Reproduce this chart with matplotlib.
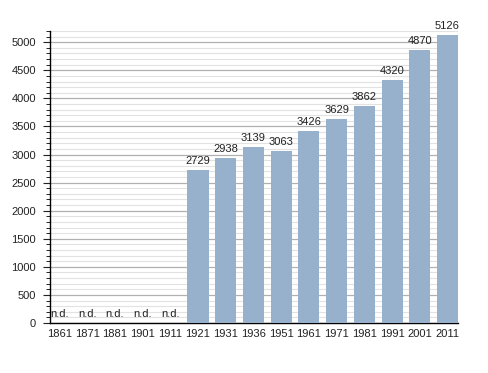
import matplotlib
matplotlib.use("Agg")
import matplotlib.pyplot as plt
from matplotlib.ticker import MultipleLocator

years = ["1861", "1871", "1881", "1901", "1911", "1921", "1931", "1936",
         "1951", "1961", "1971", "1981", "1991", "2001", "2011"]
population = [None, None, None, None, None, 2729, 2938, 3139,
              3063, 3426, 3629, 3862, 4320, 4870, 5126]

plt.rcParams['font.family'] = ['Liberation Sans', 'DejaVu Sans']

fig = plt.figure(figsize=(4.88, 3.73), dpi=100)
ax = fig.add_axes([50/488, 1 - 323/373, (458-50)/488, (323-31)/373])

xs = list(range(len(years)))
vals = [v if v is not None else 0 for v in population]
ax.bar(xs, vals, width=0.76, color='#97b0cc', zorder=3)

fs = 8
for x, v in zip(xs, population):
    if v is None:
        ax.text(x, 70, "n.d.", ha='center', va='bottom', fontsize=fs, color='#222222', zorder=4)
    else:
        ax.text(x, v + 70, str(v), ha='center', va='bottom', fontsize=fs, color='#222222', zorder=4)

ax.set_xlim(-0.34, 14.38)
ax.set_ylim(0, 5200)
ax.yaxis.set_major_locator(MultipleLocator(500))
ax.yaxis.set_minor_locator(MultipleLocator(100))
ax.grid(which='major', axis='y', color='#b0b0b0', linewidth=0.9, zorder=1)
ax.grid(which='minor', axis='y', color='#e2e2e2', linewidth=0.8, zorder=1)
ax.set_axisbelow(True)

ax.set_xticks(xs)
ax.set_xticklabels(years)
ax.tick_params(axis='x', length=0, labelsize=fs, pad=4, colors='#222222')
ax.tick_params(axis='y', which='major', length=5, width=0.8, labelsize=fs, pad=5, colors='#222222')
ax.tick_params(axis='y', which='minor', length=3, width=0.6)

for s in ['top', 'right']:
    ax.spines[s].set_visible(False)
ax.spines['left'].set_linewidth(1.0)
ax.spines['bottom'].set_linewidth(1.0)

fig.savefig("out.png", dpi=100)
